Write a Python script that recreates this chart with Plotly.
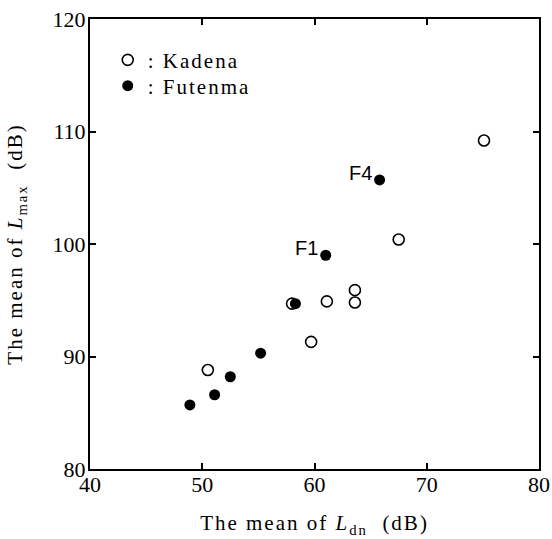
import plotly.graph_objects as go

# Mean day-night level (Ldn) vs mean maximum level (Lmax), dB
kadena_ldn = [75.1, 67.5, 58.0, 61.1, 63.6, 63.6, 59.7, 50.5]
kadena_lmax = [109.2, 100.4, 94.7, 94.9, 95.9, 94.8, 91.3, 88.8]

futenma_ldn = [65.8, 61.0, 58.3, 55.2, 52.5, 51.1, 48.9]
futenma_lmax = [105.7, 99.0, 94.7, 90.3, 88.2, 86.6, 85.7]
futenma_tags = ["F4", "F1", "", "", "", "", ""]

x_ticks = [40, 50, 60, 70, 80]
y_ticks = [80, 90, 100, 110, 120]

SERIF = "Liberation Serif, Times New Roman, serif"
SANS = "Liberation Sans, Arial, sans-serif"

fig = go.Figure()

fig.add_trace(go.Scatter(
    x=kadena_ldn, y=kadena_lmax, mode="markers", name=": Kadena",
    legend="legend", showlegend=True,
    marker=dict(symbol="circle-open", size=11, color="black",
                line=dict(width=1.6, color="black")),
))
fig.add_trace(go.Scatter(
    x=futenma_ldn, y=futenma_lmax, mode="markers", name=": Futenma",
    legend="legend2", showlegend=True,
    marker=dict(symbol="circle", size=11, color="black"),
))

for x, y, t in zip(futenma_ldn, futenma_lmax, futenma_tags):
    if t:
        fig.add_annotation(
            x=x, y=y, text=t, showarrow=False,
            xanchor="right", yanchor="middle", xshift=-6, yshift=7,
            font=dict(family=SANS, size=20, color="black"),
        )

axis_common = dict(
    showgrid=False, zeroline=False, showline=True, linecolor="black",
    linewidth=2, mirror="ticks", ticks="inside", ticklen=6, tickwidth=1.5,
    tickcolor="black", tickfont=dict(family=SERIF, size=22, color="black"),
    automargin=False,
)

fig.update_xaxes(
    range=[40, 80], tickvals=x_ticks, ticktext=[str(v) for v in x_ticks],
    ticklabelstandoff=-5,
    title=dict(text="The mean of <i>L</i><sub>dn</sub>\u00a0\u00a0(dB)",
               font=dict(family=SERIF, size=21, color="black"), standoff=19),
    **axis_common,
)
fig.update_yaxes(
    range=[80, 120], tickvals=y_ticks, ticktext=[str(v) for v in y_ticks],
    ticklabelstandoff=-2,
    title=dict(text="The mean of <i>L</i><sub>max</sub>\u00a0\u00a0(dB)",
               font=dict(family=SERIF, size=21, color="black"), standoff=24),
    **axis_common,
)

legend_common = dict(
    xanchor="left", yanchor="top", x=0.0395,
    font=dict(family=SERIF, size=21, color="black"),
    bgcolor="rgba(0,0,0,0)", itemwidth=30, visible=True,
)

fig.update_layout(
    width=552, height=539,
    margin=dict(l=90, r=13, t=19, b=70, autoexpand=False),
    paper_bgcolor="white", plot_bgcolor="white",
    showlegend=True,
    legend=dict(y=0.954, **legend_common),
    legend2=dict(y=0.8965, **legend_common),
)

# The serif captions are set a little wider, with extra letter spacing
spacing_js = """
var gd = document.getElementById('{plot_id}');
var css = document.createElement('style');
css.textContent = 'text.xtitle, text.ytitle, g.scrollbox text, g[class^="legend"] text ' +
    '{ letter-spacing: 2px !important; }';
document.head.appendChild(css);
function unclip() {
    gd.querySelectorAll('g.scrollbox, g[class^="legend"] g').forEach(function (g) {
        g.removeAttribute('clip-path');
    });
}
unclip();
gd.on('plotly_afterplot', unclip);
[50, 200, 500].forEach(function (ms) { setTimeout(unclip, ms); });
"""

fig.write_html("out.html", post_script=spacing_js)
